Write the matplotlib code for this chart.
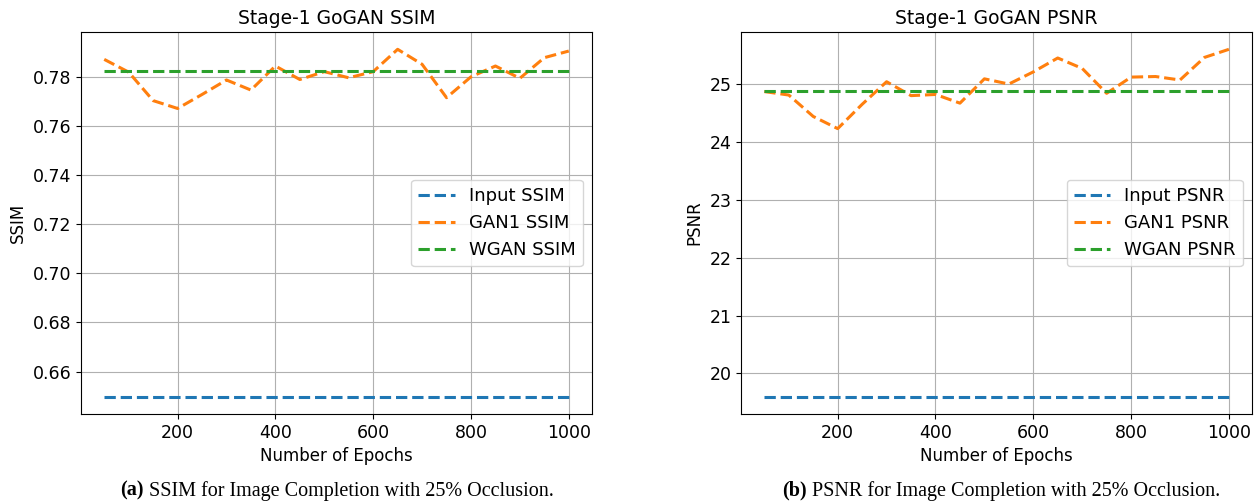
import numpy as np
import matplotlib
matplotlib.use("Agg")
import matplotlib.pyplot as plt

# epochs and values
epochs = [50, 100, 150, 200, 250, 300, 350, 400, 450, 500,
          550, 600, 650, 700, 750, 800, 850, 900, 950, 1000]

input_ssim = 0.6498
wgan_ssim = 0.7825
gan1_ssim = [0.7872, 0.7820, 0.7704, 0.7672, 0.7729, 0.7788, 0.7747, 0.7845, 0.7790, 0.7822,
             0.7797, 0.7822, 0.7913, 0.7852, 0.7716, 0.7801, 0.7845, 0.7795, 0.7879, 0.7906]

input_psnr = 19.60
wgan_psnr = 24.88
gan1_psnr = [24.87, 24.81, 24.44, 24.23, 24.65, 25.04, 24.80, 24.82, 24.67, 25.09,
             25.00, 25.21, 25.45, 25.27, 24.84, 25.12, 25.13, 25.07, 25.46, 25.60]

plt.rcParams['font.family'] = ['DejaVu Sans']
plt.rcParams['font.size'] = 12

fig = plt.figure(figsize=(12.54, 5.04), dpi=100)
ax1 = fig.add_axes([0.0646, 0.1786, 0.4075, 0.758])
ax2 = fig.add_axes([0.591, 0.1786, 0.4075, 0.758])

x = np.array(epochs)


def draw(ax, inp, gan1, wgan, name):
    ax.plot(x, np.full(len(x), inp), '--', lw=2.2, color='tab:blue', label='Input ' + name)
    ax.plot(x, gan1, '--', lw=2.2, color='tab:orange', label='GAN1 ' + name)
    ax.plot(x, np.full(len(x), wgan), '--', lw=2.2, color='tab:green', label='WGAN ' + name)
    ax.grid(True)
    ax.set_title('Stage-1 GoGAN ' + name, fontsize=13.5)
    ax.set_xlabel('Number of Epochs', fontsize=12)
    ax.set_ylabel(name, fontsize=12)
    ax.set_xticks([200, 400, 600, 800, 1000])
    ax.tick_params(labelsize=12.5)
    ax.legend(loc='center right', fontsize=13)


draw(ax1, input_ssim, gan1_ssim, wgan_ssim, 'SSIM')
draw(ax2, input_psnr, gan1_psnr, wgan_psnr, 'PSNR')
ax1.set_yticks([0.66, 0.68, 0.70, 0.72, 0.74, 0.76, 0.78])

# captions: bold "(a)" followed by regular text
for xpos, tag, txt in [(0.096, '(a)', ' SSIM for Image Completion with 25% Occlusion.'),
                       (0.624, '(b)', ' PSNR for Image Completion with 25% Occlusion.')]:
    t = fig.text(xpos, 0.016, tag, fontsize=14.5, fontweight='bold',
                 family='Liberation Serif', va='baseline')
    fig.canvas.draw()
    ax1.annotate(txt, xy=(1, 0), xycoords=t, va='bottom', ha='left',
                 fontsize=14.5, family='Liberation Serif', annotation_clip=False)

fig.savefig('out.png', dpi=100)
